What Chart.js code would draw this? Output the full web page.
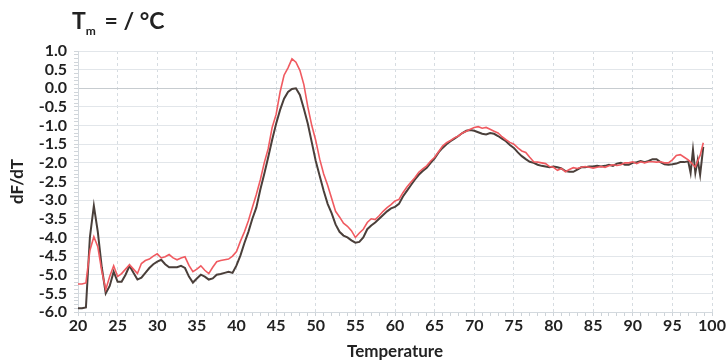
<!DOCTYPE html>
<html>
<head>
<meta charset="utf-8">
<script src="https://cdn.jsdelivr.net/npm/chart.js@4.4.1/dist/chart.umd.min.js"></script>
<style>
    html, body { margin: 0; padding: 0; background: #fff; }
    #wrap { position: relative; width: 727px; height: 362px; }
    #title {
        position: absolute; left: 72px; top: 6px;
        font: bold 23px Lato, sans-serif; color: #222;
    }
    #title sub { font-size: 12px; vertical-align: -6px; margin-right: 3px; }
</style>
</head>
<body>
<div id="wrap">
    <canvas id="meltChart" width="727" height="362"></canvas>
    <div id="title">T<sub>m</sub> = / °C</div>
</div>
<script>
const temps = [19.5, 20, 20.5, 21, 21.5, 22, 22.5, 23, 23.5, 24, 24.5, 25, 25.5, 26, 26.5, 27, 27.5, 28, 28.5, 29,
    29.5, 30, 30.5, 31, 31.5, 32, 32.5, 33, 33.5, 34, 34.5, 35, 35.5, 36, 36.5, 37, 37.5, 38, 38.5, 39,
    39.5, 40, 40.5, 41, 41.5, 42, 42.5, 43, 43.5, 44, 44.5, 45, 45.5, 46, 46.5, 47, 47.5, 48, 48.5, 49,
    49.5, 50, 50.5, 51, 51.5, 52, 52.5, 53, 53.5, 54, 54.5, 55, 55.5, 56, 56.5, 57, 57.5, 58, 58.5, 59,
    59.5, 60, 60.5, 61, 61.5, 62, 62.5, 63, 63.5, 64, 64.5, 65, 65.5, 66, 66.5, 67, 67.5, 68, 68.5, 69,
    69.5, 70, 70.5, 71, 71.5, 72, 72.5, 73, 73.5, 74, 74.5, 75, 75.5, 76, 76.5, 77, 77.5, 78, 78.5, 79,
    79.5, 80, 80.5, 81, 81.5, 82, 82.5, 83, 83.5, 84, 84.5, 85, 85.5, 86, 86.5, 87, 87.5, 88, 88.5, 89,
    89.5, 90, 90.5, 91, 91.5, 92, 92.5, 93, 93.5, 94, 94.5, 95, 95.5, 96, 96.5, 97, 97.3, 97.6, 97.9, 98.2,
    98.5, 98.9];

// dark sample curve
const sampleDark = [-5.9, -5.9, -5.9, -5.88, -4.0, -3.15, -3.85, -4.8, -5.5, -5.3, -4.92, -5.19, -5.19, -5.0, -4.76, -4.95, -5.13, -5.08, -4.95, -4.82,
    -4.72, -4.65, -4.6, -4.72, -4.8, -4.8, -4.8, -4.76, -4.82, -5.05, -5.21, -5.1, -5.0, -5.05, -5.13, -5.1, -5.0, -4.98, -4.95, -4.92,
    -4.95, -4.75, -4.48, -4.15, -3.85, -3.5, -3.2, -2.72, -2.3, -1.85, -1.38, -0.95, -0.58, -0.28, -0.1, -0.02, 0.0, -0.18, -0.55, -0.95,
    -1.45, -1.95, -2.35, -2.75, -3.1, -3.35, -3.65, -3.85, -3.95, -4.0, -4.08, -4.14, -4.12, -4.0, -3.78, -3.68, -3.6, -3.5, -3.4, -3.3,
    -3.22, -3.18, -3.1, -2.9, -2.75, -2.6, -2.45, -2.32, -2.22, -2.13, -2.0, -1.88, -1.72, -1.6, -1.5, -1.42, -1.35, -1.28, -1.2, -1.14,
    -1.12, -1.14, -1.18, -1.22, -1.24, -1.2, -1.22, -1.28, -1.35, -1.42, -1.52, -1.6, -1.72, -1.82, -1.9, -1.97, -2.0, -2.05, -2.08, -2.1,
    -2.12, -2.1, -2.12, -2.15, -2.22, -2.24, -2.24, -2.18, -2.12, -2.12, -2.1, -2.1, -2.08, -2.1, -2.08, -2.05, -2.08, -2.02, -2.0, -2.05,
    -2.05, -2.0, -1.98, -1.95, -1.98, -1.95, -1.9, -1.9, -1.98, -2.04, -2.05, -2.04, -2.02, -1.98, -1.98, -1.96, -2.27, -1.65, -2.27, -1.92,
    -2.32, -1.57];

// red sample curve
const sampleRed = [-5.25, -5.25, -5.25, -5.22, -4.35, -3.98, -4.25, -4.9, -5.4, -5.05, -4.76, -5.05, -4.97, -4.85, -4.73, -4.85, -4.97, -4.7, -4.62, -4.58,
    -4.5, -4.44, -4.55, -4.52, -4.46, -4.55, -4.6, -4.55, -4.52, -4.75, -4.92, -4.85, -4.76, -4.88, -4.97, -4.8, -4.65, -4.62, -4.6, -4.58,
    -4.5, -4.38, -4.1, -3.85, -3.55, -3.2, -2.85, -2.46, -2.0, -1.62, -1.05, -0.7, -0.1, 0.35, 0.55, 0.79, 0.7, 0.48, 0.1, -0.5,
    -1.0, -1.4, -1.9, -2.3, -2.6, -2.95, -3.3, -3.45, -3.62, -3.7, -3.82, -4.0, -3.88, -3.78, -3.6, -3.5, -3.52, -3.42, -3.3, -3.2,
    -3.12, -3.02, -2.98, -2.8, -2.65, -2.52, -2.4, -2.25, -2.16, -2.08, -1.95, -1.85, -1.7, -1.55, -1.46, -1.4, -1.33, -1.28, -1.2, -1.15,
    -1.1, -1.05, -1.03, -1.07, -1.05, -1.1, -1.15, -1.2, -1.3, -1.38, -1.45, -1.5, -1.6, -1.68, -1.72, -1.85, -1.97, -1.98, -2.0, -2.02,
    -2.1, -2.12, -2.2, -2.15, -2.24, -2.18, -2.13, -2.15, -2.12, -2.1, -2.12, -2.14, -2.12, -2.1, -2.12, -2.08, -2.05, -2.07, -2.05, -2.0,
    -2.0, -1.97, -2.02, -1.97, -2.0, -1.97, -1.97, -1.98, -1.97, -2.0, -2.0, -1.92, -1.8, -1.78, -1.85, -1.92, -1.98, -2.05, -2.11, -1.95,
    -1.8, -1.46];

const yTickLabels = ['1.0', '0.5', '0.0', '-0.5', '-1.0', '-1.5', '-2.0', '-2.5', '-3.0', '-3.5', '-4.0', '-4.5', '-5.0', '-5.5', '-6.0'];
const xTickLabels = ['20', '25', '30', '35', '40', '45', '50', '55', '60', '65', '70', '75', '80', '85', '90', '95', '100'];

const toPoints = (values) => values.map((v, i) => ({x: temps[i], y: v}));
const isMajorY = (v) => Math.abs(v * 2 - Math.round(v * 2)) < 1e-6;
const isMajorX = (v) => Math.abs(v / 5 - Math.round(v / 5)) < 1e-6;
const tickFont = {family: 'Lato', size: 16, weight: 'bold'};
const titleFont = {family: 'Lato', size: 17, weight: 'bold'};

new Chart(document.getElementById('meltChart'), {
    type: 'line',
    data: {
        datasets: [
            {data: toPoints(sampleRed), borderColor: '#f05a60', borderWidth: 1.6, pointRadius: 0, tension: 0},
            {data: toPoints(sampleDark), borderColor: '#4a3f3a', borderWidth: 2, pointRadius: 0, tension: 0}
        ]
    },
    options: {
        responsive: false,
        animation: false,
        layout: {padding: {top: 51, right: 15, bottom: 0, left: 0}},
        plugins: {legend: {display: false}, tooltip: {enabled: false}},
        scales: {
            x: {
                type: 'linear', min: 20, max: 100,
                afterFit: (scale) => { scale.height = 50; },
                afterBuildTicks: (scale) => {
                    scale.ticks = [];
                    for (let t = 20; t <= 100; t++) scale.ticks.push({value: t});
                },
                ticks: {
                    autoSkip: false, maxRotation: 0, padding: 0, color: '#222', font: tickFont,
                    callback: (v) => isMajorX(v) ? xTickLabels[Math.round((v - 20) / 5)] : ''
                },
                grid: {
                    color: (ctx) => isMajorX(ctx.tick.value) ? '#d6dce1' : 'rgba(0,0,0,0)',
                    tickColor: '#cdd3d8', tickLength: 4, lineWidth: 1
                },
                border: {color: '#d3d9de', dash: [3, 3]},
                title: {display: true, text: 'Temperature', color: '#222', font: titleFont, padding: {top: 0, bottom: 0}}
            },
            y: {
                min: -6, max: 1,
                afterFit: (scale) => { scale.width = 78; },
                afterBuildTicks: (scale) => {
                    scale.ticks = [];
                    for (let i = 10; i >= -60; i--) scale.ticks.push({value: i / 10});
                },
                ticks: {
                    autoSkip: false, padding: 7, color: '#222', font: tickFont,
                    callback: (v) => isMajorY(v) ? yTickLabels[Math.round((1 - v) * 2)] : ''
                },
                grid: {
                    color: (ctx) => {
                        const v = ctx.tick.value;
                        if (Math.abs(v) < 1e-6) return '#c7ccd0';
                        return isMajorY(v) ? '#e2e6ea' : 'rgba(0,0,0,0)';
                    },
                    tickColor: '#d0d5da', tickLength: 4, lineWidth: 1
                },
                border: {color: '#d3d9de'},
                title: {display: true, text: 'dF/dT', color: '#222', font: titleFont, padding: {top: 7, bottom: 0}}
            }
        }
    }
});
</script>
</body>
</html>
